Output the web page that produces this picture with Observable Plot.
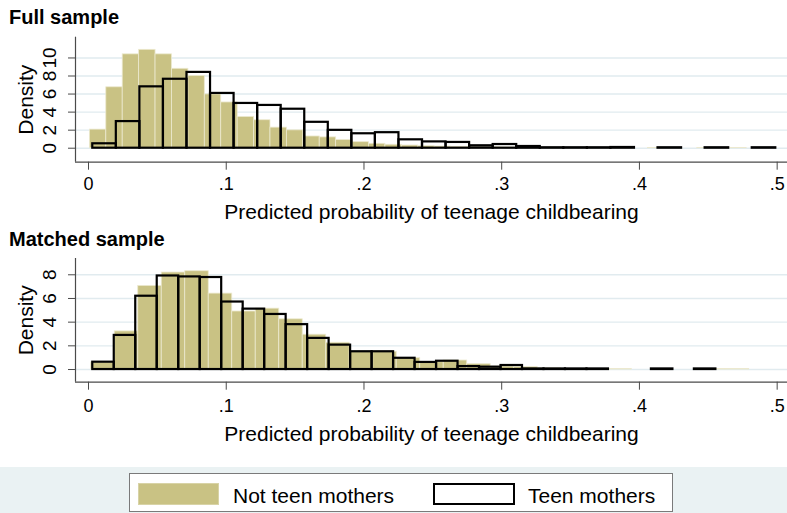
<!DOCTYPE html>
<html>
<head>
<meta charset="utf-8">
<script src="https://cdn.jsdelivr.net/npm/d3@7"></script>
<script src="https://cdn.jsdelivr.net/npm/@observablehq/plot@0.6"></script>
<style>
  body { margin: 0; background: #fff; font-family: "Liberation Sans", Arial, sans-serif; }
  #wrap { position: relative; width: 787px; height: 513px; overflow: hidden; background: #fff; }
  .ptitle { position: absolute; left: 9px; font-weight: bold; font-size: 20px; line-height: normal; color: #000; white-space: nowrap; }
  .abs { position: absolute; }
  .abs svg { display: block; }
  .legtext { position: absolute; font-size: 21px; line-height: normal; color: #000; white-space: nowrap; }
</style>
</head>
<body>
<div id="wrap">
  <div class="ptitle" style="top:6px">Full sample</div>
  <div id="p1" class="abs" style="left:0;top:30px"></div>
  <div class="ptitle" style="top:228px">Matched sample</div>
  <div id="p2" class="abs" style="left:0;top:252px"></div>
  <div class="abs" style="left:0;top:467px;width:787px;height:46px;background:#eaf2f3"></div>
  <div class="abs" style="left:129px;top:473px;width:544px;height:39px;box-sizing:border-box;background:#fff;border:1px solid #7a7a7a"></div>
  <div class="abs" style="left:138px;top:483px;width:81px;height:22px;box-sizing:border-box;background:#c9c284;border:1px solid #d8d3a6"></div>
  <div class="legtext" id="leg1" style="left:233px;top:484px"></div>
  <div class="abs" style="left:433px;top:483px;width:82px;height:22px;box-sizing:border-box;background:#fff;border:2px solid #000"></div>
  <div class="legtext" id="leg2" style="left:528px;top:484px"></div>
</div>
<script>
// ---- Data ----
const seriesNames = ["Not teen mothers", "Teen mothers"];
const xTitle = "Predicted probability of teenage childbearing";
const yTitle = "Density";
const xTicks = [0, 0.1, 0.2, 0.3, 0.4, 0.5];
const xTickLabels = ["0", ".1", ".2", ".3", ".4", ".5"];
const yTicksFull = [0, 2, 4, 6, 8, 10];
const yTicksMatched = [0, 2, 4, 6, 8];

// Full sample: not teen mothers (bin start, bin width, densities)
const fullNotTeenStart = 0.001;
const fullNotTeenWidth = 0.01192;
const fullNotTeen = [2.06, 6.75, 10.4, 10.9, 10.4, 8.8, 8.0, 5.96, 5.07, 3.46,
  3.1, 2.28, 1.98, 1.3, 1.2, 0.9, 0.67, 0.49, 0.38, 0.3,
  0.22, 0.18, 0.15, 0.12, 0.1, 0.08, 0.06, 0.05, 0.05, 0.04,
  0.04, 0.03, 0.03, 0, 0.03, 0, 0, 0.03, 0, 0.03, 0, 0];

// Full sample: teen mothers
const fullTeenStart = 0.0031;
const fullTeenWidth = 0.0171;
const fullTeen = [0.49, 2.95, 6.8, 7.64, 8.4, 6.07, 4.96, 4.74, 4.32, 2.87,
  1.98, 1.6, 1.72, 0.93, 0.7, 0.64, 0.27, 0.41, 0.19, 0.05,
  0.05, 0.05, 0.08, 0, 0.05, 0, 0.05, 0, 0.05];

// Matched sample: not teen mothers
const matchedNotTeenStart = 0.002;
const matchedNotTeenWidth = 0.01706;
const matchedNotTeen = [0.6, 3.22, 7.06, 8.19, 8.3, 6.41, 4.9, 5.14, 4.24, 2.94,
  2.26, 1.53, 1.5, 0.96, 0.62, 0.76, 0.45, 0.25, 0.2, 0.1,
  0.05, 0.05, 0.05, 0, 0, 0, 0.05, 0.05];

// Matched sample: teen mothers
const matchedTeenStart = 0.0031;
const matchedTeenWidth = 0.0156;
const matchedTeen = [0.62, 2.88, 6.19, 7.9, 7.82, 7.77, 5.7, 5.1, 4.65, 3.79,
  2.63, 2.06, 1.5, 1.5, 0.95, 0.6, 0.7, 0.25, 0.2, 0.34,
  0.05, 0.05, 0.05, 0.05, 0, 0, 0.05, 0, 0.05];

// ---- Styles ----
const tan = "#c9c284";
const tanEdge = "#ece9cf";
const gridColor = "#e1ebef";
const axisColor = "#4a4a4a";
const font = "'Liberation Sans', Arial, sans-serif";

function bins(start, width, dens) {
  return dens.map((d, i) => ({x1: start + i * width, x2: start + (i + 1) * width, d}))
             .filter(b => b.d > 0);
}

const xDomain = [-0.00944, 0.5075];
const xMid = (xDomain[0] + xDomain[1]) / 2;

function panel({notTeen, teen, yDomain, yTicks, marginTop, marginBottom, tickPad, titleDy}) {
  const yMid = (yDomain[0] + yDomain[1]) / 2;
  return Plot.plot({
    width: 787,
    height: 200,
    marginLeft: 75,
    marginRight: 0,
    marginTop,
    marginBottom,
    style: {fontFamily: font, fontSize: "18px", color: "#000", background: "transparent", overflow: "visible"},
    x: {domain: xDomain},
    y: {domain: yDomain},
    marks: [
      Plot.ruleY(yTicks, {stroke: gridColor, strokeWidth: 1.4}),
      Plot.rectY(notTeen, {x1: "x1", x2: "x2", y: "d", fill: tan, stroke: tanEdge, strokeWidth: 0.8}),
      Plot.rectY(teen, {x1: "x1", x2: "x2", y: "d", fill: "none", stroke: "#000", strokeWidth: 2.2}),
      Plot.ruleY([yDomain[0]], {stroke: axisColor, strokeWidth: 1.2}),
      Plot.ruleX([xDomain[0]], {stroke: axisColor, strokeWidth: 1.2}),
      Plot.axisX({ticks: xTicks, tickFormat: d => xTickLabels[xTicks.indexOf(d)], tickSize: 8, tickPadding: tickPad,
                  stroke: axisColor, fill: "#000", label: null, fontSize: 18}),
      Plot.axisY({ticks: yTicks, tickSize: 7, tickPadding: 13, tickRotate: -90, stroke: axisColor, fill: "#000",
                  label: null, fontSize: 19}),
      Plot.text([yTitle], {x: () => xDomain[0], y: () => yMid, text: d => d, rotate: -90, dx: -49,
                           fontSize: 21, fill: "#000"}),
      Plot.text([xTitle], {x: () => xMid, y: () => yDomain[0], text: d => d, dy: titleDy,
                           fontSize: 21, fill: "#000"})
    ]
  });
}

document.getElementById("p1").appendChild(panel({
  notTeen: bins(fullNotTeenStart, fullNotTeenWidth, fullNotTeen),
  teen: bins(fullTeenStart, fullTeenWidth, fullTeen),
  yDomain: [-1.55, 12.3],
  yTicks: yTicksFull,
  marginTop: 6.7,
  marginBottom: 68.3,
  tickPad: 7,
  titleDy: 50
}));

document.getElementById("p2").appendChild(panel({
  notTeen: bins(matchedNotTeenStart, matchedNotTeenWidth, matchedNotTeen),
  teen: bins(matchedTeenStart, matchedTeenWidth, matchedTeen),
  yDomain: [-1.07, 9.375],
  yTicks: yTicksMatched,
  marginTop: 6,
  marginBottom: 70.3,
  tickPad: 9,
  titleDy: 52
}));

document.getElementById("leg1").textContent = seriesNames[0];
document.getElementById("leg2").textContent = seriesNames[1];
</script>
</body>
</html>
